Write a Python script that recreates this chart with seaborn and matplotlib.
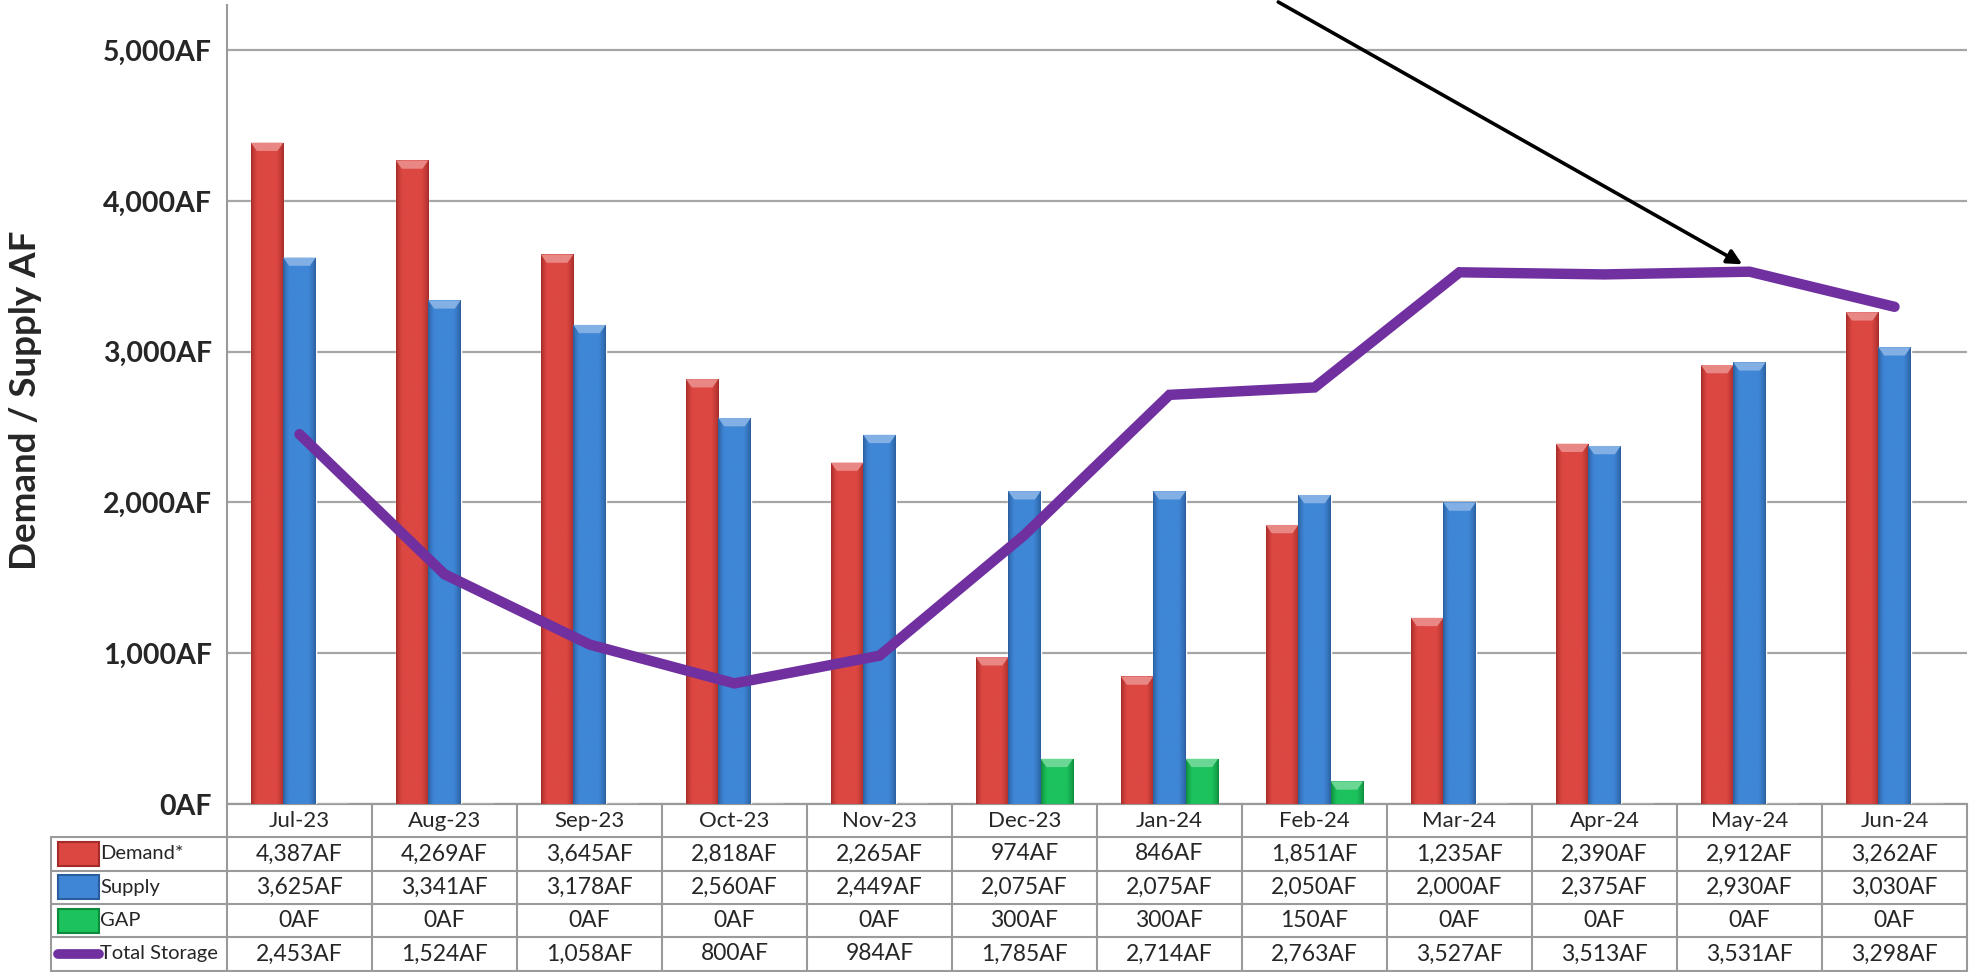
import numpy as np
import pandas as pd
import seaborn as sns
import matplotlib.pyplot as plt
from matplotlib.colors import to_rgb
from matplotlib.patches import Polygon
import matplotlib.transforms as mtransforms

# Chart data
months = ['Jul-23', 'Aug-23', 'Sep-23', 'Oct-23', 'Nov-23', 'Dec-23',
          'Jan-24', 'Feb-24', 'Mar-24', 'Apr-24', 'May-24', 'Jun-24']
demand = [4387, 4269, 3645, 2818, 2265, 974, 846, 1851, 1235, 2390, 2912, 3262]
supply = [3625, 3341, 3178, 2560, 2449, 2075, 2075, 2050, 2000, 2375, 2930, 3030]
gap = [0, 0, 0, 0, 0, 300, 300, 150, 0, 0, 0, 0]
storage = [2453, 1524, 1058, 800, 984, 1785, 2714, 2763, 3527, 3513, 3531, 3298]
series = ['Demand*', 'Supply', 'GAP']
y_ticks = [0, 1000, 2000, 3000, 4000, 5000]

# (dark edge, light body)
colors = {'Demand*': ('#a32b28', '#dc4742'),
          'Supply': ('#2a5d9c', '#3f86d6'),
          'GAP': ('#0e8a3c', '#1cc25c')}
purple = '#7030a0'

df = pd.DataFrame({'month': months * 3,
                   'series': np.repeat(series, len(months)),
                   'value': demand + supply + gap})

sns.set_style('white')
plt.rcParams['font.family'] = ['Lato', 'DejaVu Sans']

fig = plt.figure(figsize=(19.71, 9.72), dpi=100)
ax = fig.add_axes([227 / 1971, 1 - 804 / 972, 1740 / 1971, 799 / 972])

sns.barplot(data=df, x='month', y='value', hue='series', order=months,
            hue_order=series, palette={k: v[1] for k, v in colors.items()},
            width=0.67, gap=0, legend=False, ax=ax, zorder=3)

# cylinder-like shading on each bar
t = np.linspace(0, 1, 64)
prof = np.clip(np.minimum(t / 0.18, (1 - t) / 0.22), 0, 1) ** 0.7
for patch, name in zip(ax.patches, np.repeat(series, len(months))):
    x, w, h = patch.get_x(), patch.get_width(), patch.get_height()
    if h <= 0:
        continue
    dark, light = np.array(to_rgb(colors[name][0])), np.array(to_rgb(colors[name][1]))
    grad = dark[None, :] + (light - dark)[None, :] * prof[:, None]
    im = ax.imshow(grad[None, :, :], extent=[x, x + w, 0, h], aspect='auto',
                   zorder=3.1, interpolation='bilinear')
    im.set_clip_path(patch)
    top = light + (1 - light) * 0.35
    d, tb = w * 0.18, 55
    ax.add_patch(Polygon([(x, h), (x + w, h), (x + w - d, h - tb), (x + d, h - tb)],
                         closed=True, facecolor=top, edgecolor='none', zorder=3.2))

sns.lineplot(x=np.arange(len(months)), y=storage, color=purple, linewidth=7.5,
             ax=ax, zorder=4, solid_capstyle='round', solid_joinstyle='miter')

ax.set_xlim(-0.5, len(months) - 0.5)
ax.set_ylim(0, 5300)
ax.set_yticks(y_ticks)
ax.set_yticklabels([f'{v:,}AF' for v in y_ticks], fontsize=20.5, fontweight='bold')
ax.tick_params(axis='y', length=0, pad=11)
ax.set_xticks([])
ax.set_xlabel('')
ax.set_ylabel('')
ax.grid(axis='y', color='#a6a6a6', linewidth=1.6, zorder=0)
ax.set_axisbelow(True)
for s in ['top', 'right']:
    ax.spines[s].set_visible(False)
for s in ['left', 'bottom']:
    ax.spines[s].set_color('#9a9a9a')
    ax.spines[s].set_linewidth(1.5)

fig.text(26 / 1971, 1 - 400 / 972, 'Demand / Supply AF', rotation=90,
         fontsize=26.5, fontweight='bold', ha='center', va='center')

# arrow pointing at the storage line
ax.annotate('', xy=(9.95, 3580), xytext=(6.75, 5320), annotation_clip=False,
            arrowprops=dict(arrowstyle='-|>', color='black', lw=2.6,
                            mutation_scale=22, shrinkA=0, shrinkB=0))

# data table below the axes
trans = mtransforms.blended_transform_factory(ax.transData, ax.transAxes)
row_h = 33.3 / 799
grid_kw = dict(color='#9a9a9a', linewidth=1.5, transform=trans, clip_on=False)
n = len(months)
left = -1.714
rows = [demand, supply, gap, storage]
labels = ['Demand*', 'Supply', 'GAP', 'Total Storage']

for i in range(6):
    y = -row_h * i
    x0 = -0.5 if i == 0 else left
    ax.plot([x0, n - 0.5], [y, y], **grid_kw)
for j in range(n + 1):
    ax.plot([j - 0.5, j - 0.5], [0, -5 * row_h], **grid_kw)
ax.plot([left, left], [-row_h, -5 * row_h], **grid_kw)

for j, m in enumerate(months):
    ax.text(j, -0.5 * row_h, m, transform=trans, ha='center', va='center', fontsize=16)
    for r, vals in enumerate(rows):
        ax.text(j, -(r + 1.5) * row_h, f'{vals[j]:,}AF', transform=trans,
                ha='center', va='center', fontsize=16.5)

key_x0, key_x1 = left + 0.05, left + 0.33
for r, lab in enumerate(labels):
    yc = -(r + 1.5) * row_h
    if lab == 'Total Storage':
        ax.plot([key_x0, key_x1], [yc, yc], color=purple, linewidth=7,
                solid_capstyle='round', transform=trans, clip_on=False)
    else:
        dark, light = colors[lab]
        ax.add_patch(plt.Rectangle((key_x0, yc - 0.36 * row_h), key_x1 - key_x0,
                                   0.72 * row_h, facecolor=light, edgecolor=dark,
                                   linewidth=1.5, transform=trans, clip_on=False))
    ax.text(key_x1 + 0.01, yc, lab, transform=trans, ha='left', va='center', fontsize=14.5)

fig.savefig('out.png', dpi=100)
